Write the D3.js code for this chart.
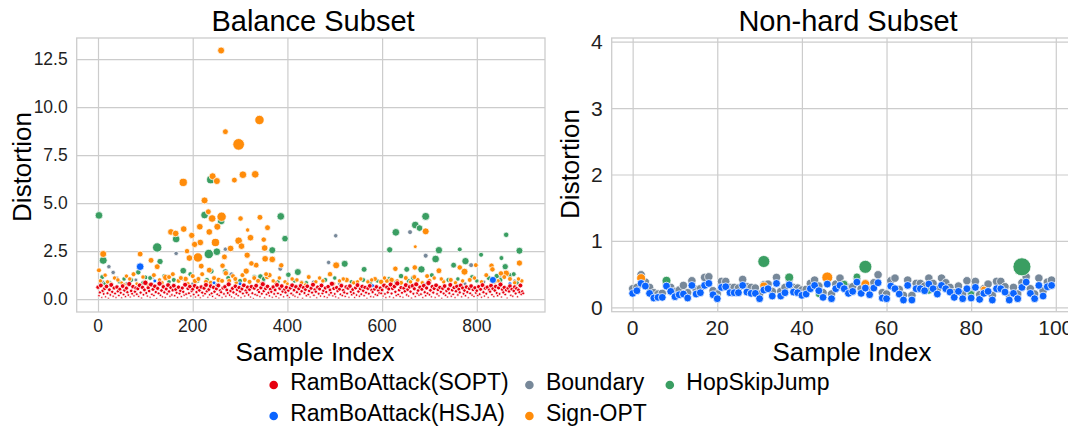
<!DOCTYPE html>
<html>
<head>
<meta charset="utf-8">
<script src="https://cdn.jsdelivr.net/npm/d3@7"></script>
<style>
  body { margin: 0; background: #fff; }
  svg { display: block; font-family: "Liberation Sans", Arial, sans-serif; }
</style>
</head>
<body>
<svg id="chart" width="1068" height="429"></svg>
<script>
// ---- series names and colours ----
const seriesNames = ["RamBoAttack(SOPT)", "RamBoAttack(HSJA)", "Boundary", "Sign-OPT", "HopSkipJump"];
const seriesColors = ["#e6000f", "#0a64ff", "#778899", "#ff8c0a", "#3a9e62"];

// ---- tick labels ----
const balanceXTicks = [0, 200, 400, 600, 800];
const balanceYTicks = [0, 2.5, 5, 7.5, 10, 12.5];
const nonhardXTicks = [0, 20, 40, 60, 80, 100];
const nonhardYTicks = [0, 1, 2, 3, 4];

// ---- Balance subset (900 samples) ----
// RamBoAttack(SOPT): distortion of every second sample, starting at sample 0
const balanceSOPTStep = 2;
const balanceSOPT = [
0.62,0.18,0.35,0.71,0.08,0.44,0.27,0.55,0.12,0.66,
0.31,0.05,0.49,0.22,0.74,0.38,0.15,0.58,0.29,0.09,
0.63,0.41,0.19,0.52,0.33,0.07,0.68,0.24,0.46,0.13,
0.57,0.36,0.21,0.79,0.11,0.43,0.28,0.65,0.17,0.39,
0.58,0.26,0.54,0.14,0.72,0.34,0.06,0.61,0.23,0.48,
0.85,0.32,0.16,0.59,0.42,0.10,0.76,0.25,0.51,0.19,
0.67,0.37,0.04,0.56,0.30,0.81,0.20,0.45,0.12,0.64,
0.35,0.09,0.53,0.27,0.73,0.40,0.15,0.60,0.22,0.47,
0.70,0.18,0.50,0.33,0.08,0.62,0.29,0.44,0.13,0.58,
0.38,0.21,0.75,0.26,0.06,0.55,0.31,0.66,0.16,0.42,
0.52,0.24,0.69,0.11,0.37,0.59,0.20,0.46,0.07,0.63,
0.34,0.17,0.57,0.28,0.74,0.41,0.10,0.50,0.23,0.68,
0.30,0.14,0.61,0.39,0.05,0.54,0.25,0.71,0.19,0.45,
0.36,0.08,0.58,0.27,0.64,0.15,0.48,0.32,0.77,0.21,
0.43,0.12,0.56,0.35,0.06,0.67,0.26,0.49,0.18,0.60,
0.40,0.09,0.53,0.29,0.72,0.16,0.44,0.34,0.62,0.22,
0.50,0.11,0.65,0.31,0.04,0.57,0.24,0.70,0.20,0.46,
0.37,0.13,0.59,0.28,0.78,0.42,0.07,0.55,0.25,0.66,
0.33,0.17,0.52,0.38,0.10,0.63,0.27,0.48,0.14,0.74,
0.30,0.06,0.56,0.23,0.68,0.40,0.12,0.51,0.35,0.61,
0.19,0.45,0.08,0.58,0.29,0.72,0.21,0.47,0.15,0.64,
0.36,0.10,0.54,0.26,0.69,0.41,0.05,0.60,0.32,0.50,
0.18,0.67,0.24,0.43,0.11,0.57,0.34,0.75,0.20,0.49,
0.39,0.07,0.62,0.28,0.53,0.16,0.71,0.30,0.44,0.13,
0.58,0.37,0.09,0.65,0.22,0.48,0.33,0.80,0.17,0.55,
0.27,0.12,0.60,0.42,0.06,0.52,0.25,0.70,0.19,0.46,
0.35,0.14,0.63,0.29,0.57,0.10,0.68,0.38,0.23,0.50,
0.31,0.08,0.59,0.21,0.73,0.40,0.15,0.54,0.26,0.66,
0.44,0.18,0.61,0.34,0.05,0.56,0.28,0.69,0.13,0.47,
0.37,0.11,0.52,0.24,0.64,0.20,0.45,0.32,0.58,0.30,
0.48,0.16,0.71,0.27,0.09,0.62,0.35,0.53,0.12,0.76,
0.29,0.55,0.07,0.66,0.38,0.19,0.82,0.24,0.47,0.14,
0.60,0.33,0.10,0.57,0.41,0.73,0.22,0.50,0.16,0.64,
0.39,0.06,0.69,0.28,0.54,0.13,0.77,0.32,0.45,0.21,
0.62,0.26,0.51,0.09,0.70,0.36,0.18,0.58,0.30,0.84,
0.23,0.46,0.12,0.65,0.34,0.55,0.08,0.72,0.27,0.49,
0.17,0.61,0.38,0.05,0.56,0.29,0.68,0.20,0.43,0.11,
0.53,0.31,0.74,0.15,0.47,0.25,0.60,0.09,0.41,0.66,
0.22,0.52,0.35,0.71,0.12,0.58,0.28,0.45,0.18,0.63,
0.37,0.07,0.55,0.30,0.68,0.21,0.49,0.14,0.59,0.33,
0.44,0.19,0.65,0.26,0.51,0.10,0.73,0.36,0.16,0.57,
0.28,0.62,0.08,0.48,0.39,0.70,0.23,0.54,0.13,0.45,
0.66,0.32,0.18,0.59,0.27,0.76,0.11,0.50,0.35,0.61,
0.24,0.47,0.06,0.57,0.40,0.68,0.20,0.52,0.15,0.43,
0.63,0.29,0.55,0.12,0.48,0.36,0.71,0.25,0.40,0.30
];
// [sample index, distortion, weight]
const balanceHSJA = [
[89,1.69,12],[834,1.0,10],[120,0.95,3],[245,0.85,3],[300,0.8,3],[410,0.6,2],
[580,0.7,3],[690,0.75,3],[760,0.7,3],[870,0.8,3],[160,0.7,3]
];
const balanceBoundary = [
[165,2.38,4],[269,2.6,4],[282,1.29,5],[23,1.69,4],[32,1.39,4],[385,1.58,5],
[502,3.3,4],[659,3.49,5],[692,2.26,5],[788,1.77,5],[487,1.91,4],[80,1.0,3],
[150,0.9,3],[200,0.8,3],[320,0.85,3],[410,0.75,3],[455,0.9,3],[540,0.85,3],
[600,0.8,3],[730,0.95,3],[815,0.9,3],[850,1.1,4],[870,1.2,4],[40,1.1,3],[350,0.95,3],
[10,0.9,3],[60,0.8,3],[115,1.15,4],[180,1.05,4],[250,0.75,3],[290,0.95,3],[430,0.9,3],
[510,0.8,3],[570,0.95,3],[650,0.75,3],[700,0.85,3],[775,0.8,3],[880,0.95,3]
];
const balanceSignOPT = [
[260,12.95,10],[341,9.33,18],[269,8.72,7],[297,8.06,28],[180,6.08,14],[242,6.4,10],
[251,6.15,10],[288,6.2,7],[306,6.48,12],[332,6.5,12],[225,5.14,10],[233,4.55,7],
[241,4.2,12],[261,4.29,18],[301,4.2,6],[342,4.26,7],[252,3.77,10],[358,3.72,7],
[316,3.6,4],[154,3.5,9],[164,3.42,9],[181,3.65,9],[198,3.32,8],[215,3.77,9],
[235,3.5,9],[216,2.95,9],[204,2.85,8],[248,2.95,14],[322,3.2,9],[350,3.1,6],
[297,3.04,12],[280,2.64,9],[303,2.76,9],[352,2.66,9],[211,2.17,18],[188,2.5,6],
[193,2.14,9],[267,2.2,7],[315,2.29,8],[353,2.1,9],[368,2.07,9],[334,1.77,7],
[324,1.86,6],[263,1.74,6],[218,1.72,7],[11,2.35,10],[89,2.35,7],[112,2.02,7],
[125,1.69,7],[143,1.13,8],[2,1.5,5],[387,1.76,6],[357,1.16,6],[313,1.46,8],
[235,1.51,7],[503,1.76,10],[692,3.53,10],[670,2.73,3],[669,1.65,6],[628,1.58,6],
[720,1.48,7],[764,1.65,6],[774,1.43,10],[798,1.77,5],[831,1.74,6],[833,1.55,6],
[862,1.34,9],[851,1.34,6],[890,1.88,8],[598,0.9,6],
[20,0.9,4],[35,1.1,4],[50,0.85,3],[60,1.2,4],[75,1.3,5],[100,0.9,4],[130,1.0,4],
[150,1.15,5],[170,0.95,5],[185,1.05,6],[200,1.2,5],[205,0.95,6],[220,1.3,5],
[228,0.9,5],[245,1.1,5],[255,1.0,6],[270,1.35,6],[277,0.95,5],[285,1.2,5],
[292,0.85,4],[310,1.0,5],[320,0.9,5],[330,1.1,5],[345,0.8,4],[362,1.25,6],
[375,0.85,4],[395,0.9,4],[410,1.05,4],[430,0.85,4],[445,1.15,5],[460,0.9,4],
[475,0.95,4],[490,1.3,6],[510,0.95,4],[525,1.0,6],[540,0.85,4],[555,1.05,4],
[570,0.9,4],[585,1.05,5],[610,0.95,5],[620,1.0,6],[640,0.85,5],[650,1.1,5],
[660,0.9,4],[675,1.0,5],[700,0.95,5],[710,1.1,4],[730,0.9,4],[745,1.0,5],
[755,0.85,4],[785,1.0,5],[810,0.9,4],[820,1.25,5],[845,0.95,4],[870,1.05,5],
[880,0.85,4],[895,0.95,4],
[5,0.95,4],[15,1.25,4],[28,0.8,3],[42,1.0,4],[55,0.75,3],[67,1.05,4],[82,0.8,3],
[95,1.15,4],[105,0.75,3],[118,1.25,5],[135,0.85,4],[158,1.3,5],[175,1.1,5],[190,0.8,4],
[212,1.05,5],[238,0.85,5],[262,0.95,5],[290,1.05,5],[305,1.25,5],[338,0.95,5],[355,1.3,5],
[370,0.95,4],[383,1.1,4],[400,0.8,3],[420,1.0,4],[438,0.75,3],[468,1.1,4],[498,0.8,3],
[518,1.05,4],[548,0.9,4],[578,1.0,4],[605,1.1,4],[632,0.95,4],[668,1.15,5],[685,0.85,4],
[695,1.2,5],[725,1.05,4],[770,0.95,4],[795,1.1,4],[838,0.9,4],[858,1.15,5],[888,1.05,4]
];
const balanceHopSkipJump = [
[2,4.36,12],[238,6.22,14],[225,4.38,12],[260,4.07,12],[386,4.31,12],[165,3.13,12],
[395,3.15,9],[368,2.55,10],[125,2.69,18],[234,2.35,18],[251,2.47,12],[11,2.02,13],
[131,1.96,8],[180,1.48,9],[100,1.13,5],[9,1.15,5],[402,1.27,6],[422,1.41,10],
[343,1.18,6],[269,1.43,7],[239,1.46,7],[521,1.84,10],[562,1.55,7],[616,2.57,8],
[629,3.48,12],[670,3.86,12],[679,3.7,9],[692,4.31,13],[720,2.55,11],[713,2.09,12],
[683,1.55,11],[652,1.55,7],[751,1.77,7],[764,2.59,5],[776,1.98,11],[809,2.31,5],
[852,2.14,5],[862,3.35,6],[860,1.69,8],[890,2.52,10],[842,1.2,6],[630,0.9,5],[656,0.95,5],
[25,0.85,4],[45,0.9,4],[70,1.0,5],[85,1.4,6],[110,1.1,5],[140,1.2,5],[160,1.0,5],
[195,1.3,5],[210,0.95,5],[275,1.1,5],[330,1.15,5],[380,0.9,4],[440,0.85,4],
[480,1.0,5],[535,0.9,4],[560,1.0,5],[590,0.95,4],[640,1.2,6],[705,1.25,5],
[740,1.0,5],[790,1.15,5],[825,1.1,5],[870,1.25,5],[885,0.85,4],
[15,0.8,4],[55,1.05,4],[95,0.85,4],[150,0.9,4],[230,1.0,5],[300,0.95,5],[350,1.05,5],
[415,0.95,4],[500,1.1,4],[575,0.85,4],[615,1.05,5],[665,1.1,5],[698,0.9,5],[760,1.05,4],
[800,0.95,4],[850,1.0,5],[878,1.3,5]
];

// ---- Non-hard subset (100 samples) ----
const nonhardHSJA = [
0.21,0.25,0.36,0.32,0.21,0.14,0.15,0.15,0.32,0.24,
0.16,0.19,0.20,0.14,0.33,0.20,0.22,0.33,0.36,0.19,
0.13,0.30,0.31,0.22,0.22,0.22,0.33,0.23,0.21,0.21,
0.13,0.26,0.28,0.17,0.36,0.17,0.22,0.34,0.23,0.22,
0.18,0.20,0.28,0.33,0.25,0.15,0.35,0.13,0.28,0.33,
0.28,0.21,0.24,0.38,0.21,0.29,0.19,0.29,0.37,0.14,
0.13,0.32,0.28,0.20,0.11,0.33,0.11,0.28,0.28,0.25,
0.35,0.28,0.20,0.33,0.28,0.23,0.15,0.24,0.13,0.28,
0.14,0.30,0.12,0.21,0.24,0.11,0.28,0.28,0.23,0.11,
0.21,0.13,0.30,0.38,0.21,0.13,0.33,0.17,0.31,0.33
];
const nonhardBoundary = [
0.28,0.30,0.49,0.38,0.30,0.22,0.20,0.21,0.36,0.30,
0.24,0.26,0.33,0.22,0.40,0.27,0.28,0.45,0.46,0.25,
0.20,0.39,0.39,0.30,0.30,0.29,0.42,0.31,0.30,0.29,
0.20,0.34,0.35,0.24,0.45,0.24,0.30,0.42,0.30,0.29,
0.26,0.27,0.36,0.41,0.32,0.22,0.42,0.20,0.35,0.44,
0.35,0.30,0.31,0.44,0.28,0.36,0.26,0.37,0.49,0.22,
0.20,0.40,0.44,0.27,0.18,0.41,0.18,0.36,0.36,0.32,
0.44,0.36,0.27,0.44,0.37,0.30,0.22,0.32,0.20,0.40,
0.21,0.39,0.19,0.28,0.35,0.18,0.39,0.39,0.31,0.18,
0.30,0.20,0.37,0.46,0.28,0.20,0.44,0.25,0.38,0.41
];
const nonhardSignOPT = [
[2,0.44,22],[31,0.32,18],[46,0.45,33],[55,0.35,22],[83,0.27,12]
];
const nonhardHopSkipJump = [
[8,0.4,22],[31,0.69,40],[37,0.45,22],[50,0.35,16],[53,0.46,16],[55,0.61,47],
[92,0.61,90],[20,0.15,14],[44,0.2,14],[70,0.25,14],[80,0.2,14]
];

// ---- drawing ----
const svg = d3.select("#chart");
const textColor = "#1f1f1f";
const gridColor = "#cccccc";
const soptRadius = d3.scaleLinear().domain([0, 0.85]).range([0.8, 2.7]).clamp(true);

function panel(cfg) {
  const {left, right, top, bottom, xDomain, yDomain, xTicks, yTicks, yFormat,
         tickSize, title, titleX, yLabelX, yLabelY, xLabelX, layers, id} = cfg;
  const x = d3.scaleLinear().domain(xDomain).range([left, right]);
  const y = d3.scaleLinear().domain(yDomain).range([bottom, top]);
  const g = svg.append("g");

  g.append("clipPath").attr("id", id).append("rect")
    .attr("x", left).attr("y", top).attr("width", right - left).attr("height", bottom - top);

  // grid lines drawn by the axes generators
  g.append("g").attr("transform", `translate(0,${bottom})`)
    .call(d3.axisBottom(x).tickValues(xTicks).tickSize(-(bottom - top)).tickFormat(""))
    .call(a => a.select(".domain").remove())
    .call(a => a.selectAll("line").attr("stroke", gridColor).attr("stroke-width", 1.2));
  g.append("g").attr("transform", `translate(${left},0)`)
    .call(d3.axisLeft(y).tickValues(yTicks).tickSize(-(right - left)).tickFormat(""))
    .call(a => a.select(".domain").remove())
    .call(a => a.selectAll("line").attr("stroke", gridColor).attr("stroke-width", 1.2));

  g.append("rect").attr("x", left).attr("y", top)
    .attr("width", right - left).attr("height", bottom - top)
    .attr("fill", "none").attr("stroke", gridColor).attr("stroke-width", 1.3);

  // tick labels
  g.selectAll(".xt").data(xTicks).enter().append("text")
    .attr("x", d => x(d)).attr("y", bottom + cfg.xTickDy)
    .attr("text-anchor", "middle").attr("font-size", tickSize).attr("fill", textColor)
    .text(d => d);
  g.selectAll(".yt").data(yTicks).enter().append("text")
    .attr("x", left - cfg.yTickGap).attr("y", d => y(d)).attr("dy", "0.36em")
    .attr("text-anchor", "end").attr("font-size", tickSize).attr("fill", textColor)
    .text(d => d3.format(yFormat)(d));

  // points, one layer per series, later layers on top
  const pts = g.append("g").attr("clip-path", `url(#${id})`);
  layers.forEach(L => {
    pts.append("g").selectAll("circle").data(L.data).enter().append("circle")
      .attr("cx", d => x(d[0])).attr("cy", d => y(d[1]))
      .attr("r", d => L.radius(d))
      .attr("fill", seriesColors[L.series])
      .attr("stroke", "#fff").attr("stroke-width", 0.75);
  });

  // title and axis labels
  g.append("text").attr("x", titleX).attr("y", 30.5).attr("text-anchor", "middle")
    .attr("font-size", 29).attr("fill", "#000").text(title);
  g.append("text").attr("x", xLabelX).attr("y", 361).attr("text-anchor", "middle")
    .attr("font-size", 26).attr("fill", "#000").text("Sample Index");
  g.append("text").attr("transform", `translate(${yLabelX},${yLabelY}) rotate(-90)`)
    .attr("text-anchor", "middle").attr("font-size", 26).attr("fill", "#000").text("Distortion");
}

const balanceWeight = d3.scaleSqrt().domain([0, 100]).range([0, 11]);
const nonhardWeight = d3.scaleSqrt().domain([0, 100]).range([0, 9.5]);

panel({
  id: "clipBalance",
  left: 76.7, right: 545, top: 38, bottom: 312,
  xDomain: [-45, 944], yDomain: [-0.67, 13.6],
  xTicks: balanceXTicks, yTicks: balanceYTicks, yFormat: ".1f",
  tickSize: 17.5, xTickDy: 20, yTickGap: 9,
  title: "Balance Subset", titleX: 313, xLabelX: 315, yLabelX: 31, yLabelY: 167,
  layers: [
    {series: 2, data: balanceBoundary, radius: d => balanceWeight(d[2])},
    {series: 4, data: balanceHopSkipJump, radius: d => balanceWeight(d[2])},
    {series: 3, data: balanceSignOPT, radius: d => balanceWeight(d[2])},
    {series: 1, data: balanceHSJA, radius: d => balanceWeight(d[2])},
    {series: 0, data: balanceSOPT.map((v, k) => [k * balanceSOPTStep, v]), radius: d => soptRadius(d[1])}
  ]
});

panel({
  id: "clipNonhard",
  left: 611.7, right: 1072.5, top: 38, bottom: 311.7,
  xDomain: [-4.95, 103.95], yDomain: [-0.066, 4.056],
  xTicks: nonhardXTicks, yTicks: nonhardYTicks, yFormat: "d",
  tickSize: 21, xTickDy: 23, yTickGap: 9,
  title: "Non-hard Subset", titleX: 848, xLabelX: 852, yLabelX: 578.5, yLabelY: 164,
  layers: [
    {series: 2, data: nonhardBoundary.map((v, i) => [i, v]), radius: () => 4.2},
    {series: 4, data: nonhardHopSkipJump, radius: d => nonhardWeight(d[2])},
    {series: 3, data: nonhardSignOPT, radius: d => nonhardWeight(d[2])},
    {series: 1, data: nonhardHSJA.map((v, i) => [i, v]), radius: () => 3.9}
  ]
});

// ---- legend: three columns, filled column by column ----
const legendCols = [273.7, 529.4, 669.8];
const legendRows = [385, 416];
const legend = svg.append("g");
seriesNames.forEach((name, k) => {
  const col = Math.floor(k / 2), row = k % 2;
  const cx = legendCols[col], cy = legendRows[row];
  legend.append("circle").attr("cx", cx).attr("cy", cy).attr("r", 4.3)
    .attr("fill", seriesColors[k]);
  legend.append("text").attr("x", cx + 16.5).attr("y", cy + 5)
    .attr("font-size", 23).attr("fill", "#000").text(name);
});
</script>
</body>
</html>
